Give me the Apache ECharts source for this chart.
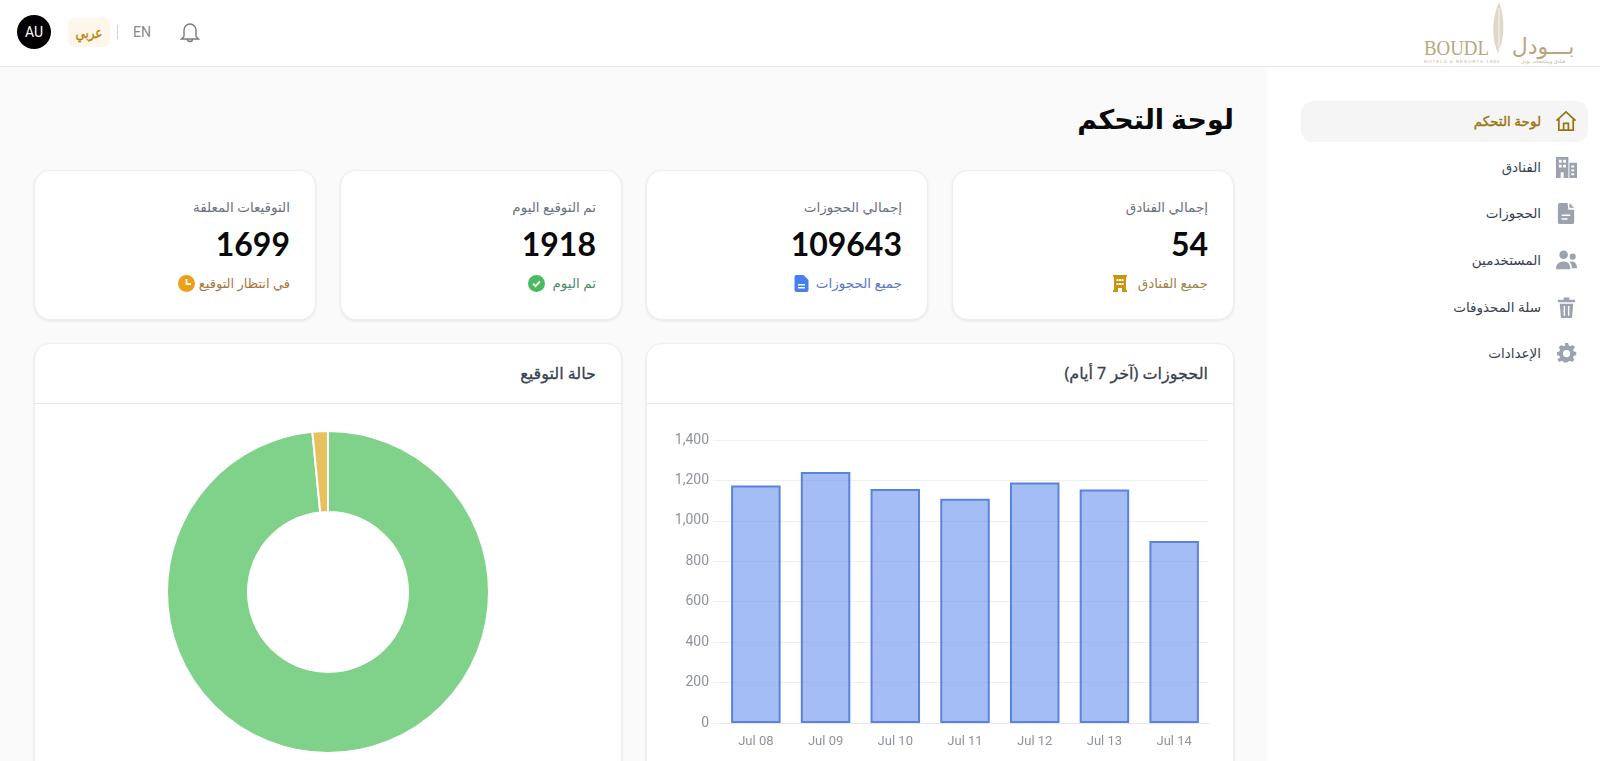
<!DOCTYPE html>
<html lang="ar">
<head>
	<meta charset="UTF-8">
	<title>لوحة التحكم</title>
	<script src="https://cdn.jsdelivr.net/npm/echarts@6/dist/echarts.min.js"></script>
	<style>
		html, body { margin: 0; width: 1600px; height: 761px; overflow: hidden; background: #fafafa; font-family: "Noto Sans", "DejaVu Sans", sans-serif; }
		.abs { position: absolute; }
		#top { left: 0; top: 0; width: 1600px; height: 67px; background: #fff; border-bottom: 1px solid #e5e7eb; box-sizing: border-box; }
		#side { left: 1267px; top: 67px; width: 333px; height: 694px; background: #fff; }
		#avatar { left: 17px; top: 15px; width: 34px; height: 34px; border-radius: 50%; background: #000; color: #fff; font: 14px/34px Roboto; text-align: center; }
		#ar { left: 68px; top: 18px; width: 42px; height: 29px; border-radius: 6px; background: #fdf6ea; color: #b8860b; font-size: 15px; line-height: 29px; text-align: center; -webkit-text-stroke: .4px #b8860b; }
		#ar span { display: inline-block; transform: scaleX(.8); }
		#sep { left: 117px; top: 25px; width: 1px; height: 14px; background: #d1d5db; }
		#en { left: 133px; top: 22px; color: #8a8a8a; font: 14px/20px Roboto; }
		.nav { left: 1301px; width: 287px; height: 41px; border-radius: 12px; }
		.nav .t { position: absolute; right: 47px; top: 0; line-height: 41px; font-size: 13.5px; color: #374151; white-space: nowrap; direction: rtl; }
		.nav svg { position: absolute; left: 254px; top: 9px; }
		.nav.on { background: #f5f5f5; }
		.nav.on .t { color: #9a7411; -webkit-text-stroke: .35px #9a7411; }
		h1 { margin: 0; right: 366px; top: 99px; font-size: 27px; line-height: 40px; font-weight: 700; color: #0a0a0a; direction: rtl; }
		.card { background: #fff; border: 1px solid #eceef0; border-radius: 16px; box-shadow: 0 1px 3px rgba(0,0,0,.09); box-sizing: border-box; }
		.stat { top: 170px; width: 282px; height: 150px; }
		.stat .a, .stat .b, .stat .c { position: absolute; right: 25px; white-space: nowrap; direction: rtl; }
		.stat .a { top: 26px; font-size: 13.5px; line-height: 20px; color: #6b7280; }
		.stat .b { top: 52px; font: 700 32px/42px Lato; color: #0a0a0a; }
		.stat .c { top: 102px; font-size: 13.5px; line-height: 20px; display: flex; align-items: center; gap: 7px; }
		.panel { top: 343px; width: 588px; height: 440px; }
		.panel .h { position: absolute; left: 0; right: 0; top: 0; height: 59px; border-bottom: 1px solid #e5e7eb; }
		.panel .h div { position: absolute; right: 25px; top: 18px; font-size: 16px; line-height: 22px; color: #374151; -webkit-text-stroke: .3px #374151; direction: rtl; white-space: nowrap; }
	</style>
</head>
<body>
	<div id="side" class="abs"></div>
	<div id="top" class="abs"></div>
	<div id="avatar" class="abs">AU</div>
	<div id="ar" class="abs" dir="rtl"><span>عربي</span></div>
	<div id="sep" class="abs"></div>
	<div id="en" class="abs">EN</div>
	<svg class="abs" style="left:178px;top:20px" width="24" height="24" viewBox="0 0 24 24" fill="none" stroke="#7b7b7b" stroke-width="1.4"><path d="M6 16.500V10a6 6 0 0 1 12 0v6.500l2.500 2.500h-17z"/><path d="M9.500 19a2.500 2.500 0 0 0 5 0"/></svg>

	<!-- logo -->
	<svg class="abs" style="left:1420px;top:0" width="165" height="66" viewBox="0 0 165 66">
		<path d="M79 2C72 18 71 38 78 53C85 38 85 18 79 2Z" fill="#dfd8c8"/>
		<path d="M79 8V50" stroke="#fff" stroke-width=".8"/>
		<text x="4" y="55" font-family="Liberation Serif" font-size="20" textLength="65" lengthAdjust="spacingAndGlyphs" fill="#b9a681">BOUDL</text>
		<text x="123" y="54" text-anchor="middle" font-family="DejaVu Sans" font-size="22" fill="#b9a681">بـــودل</text>
		<text x="4" y="63" font-family="Liberation Sans" font-size="4.4" letter-spacing="1" fill="#c4b69b">HOTELS &amp; RESORTS 1996</text>
		<text x="123" y="63" text-anchor="middle" font-family="DejaVu Sans" font-size="5" fill="#c4b69b">فنادق ومنتجعات بودل</text>
	</svg>

	<h1 class="abs">لوحة التحكم</h1>

	<div class="abs card panel" style="left:646px"><div class="h"><div>الحجوزات (آخر 7 أيام)</div></div></div>
	<div class="abs card panel" style="left:34px"><div class="h"><div>حالة التوقيع</div></div></div>
	<div id="barChart" class="abs" style="left:647px;top:403px;width:586px;height:358px"></div>
	<div id="pieChart" class="abs" style="left:35px;top:403px;width:586px;height:358px"></div>

	<script>
		// القيم المقروءة من الصورة
		var bookingDays = ['Jul 08', 'Jul 09', 'Jul 10', 'Jul 11', 'Jul 12', 'Jul 13', 'Jul 14'];
		var bookingCounts = [1175, 1242, 1157, 1109, 1190, 1155, 900];
		var signStatus = ['تم التوقيع', 'في انتظار التوقيع'];
		var signCounts = [107944, 1699];
		var statTitles = ['إجمالي الفنادق', 'إجمالي الحجوزات', 'تم التوقيع اليوم', 'التوقيعات المعلقة'];
		var statValues = ['54', '109643', '1918', '1699'];
		var statNotes = ['جميع الفنادق', 'جميع الحجوزات', 'تم اليوم', 'في انتظار التوقيع'];
		var navItems = ['لوحة التحكم', 'الفنادق', 'الحجوزات', 'المستخدمين', 'سلة المحذوفات', 'الإعدادات'];

		var statLeft = [952, 646, 340, 34];
		var noteColor = ['#a0844a', '#5b78c9', '#4f8f68', '#a9763f'];
		var noteSize = ['13.5px', '13.5px', '13.5px', '13px'];
		var statIcons = [
			'<svg style="margin-right:4px" width="14" height="17" viewBox="0 0 14 17"><path fill="#c8960f" d="M0 0h14v2h-1v13h1v2H9v-4H5v4H0v-2h1V2H0z"/><path fill="#fff" d="M3.500 4h2v2h-2zM6 4h2v2H6zM8.500 4h2v2h-2zM3.500 8h2v2h-2zM6 8h2v2H6zM8.500 8h2v2h-2z"/></svg>',
			'<svg width="15" height="17" viewBox="0 0 14 17"><path fill="#4680ee" d="M2 0h7l5 5v10a2 2 0 0 1-2 2H2a2 2 0 0 1-2-2V2a2 2 0 0 1 2-2z"/><path fill="#fff" d="M3.500 9h7v1.400h-7zM3.500 12h7v1.400h-7z"/></svg>',
			'<svg width="17" height="17" viewBox="0 0 17 17"><circle cx="8.500" cy="8.500" r="8.500" fill="#48bb60"/><path d="M5 8.700l2.500 2.500L12 6.400" fill="none" stroke="#fff" stroke-width="1.800"/></svg>',
			'<svg style="margin-right:-3px" width="17" height="17" viewBox="0 0 17 17"><circle cx="8.500" cy="8.500" r="8.500" fill="#ee9f16"/><path d="M8.500 4v5H13" fill="none" stroke="#fff" stroke-width="1.800"/></svg>'
		];
		var navIcons = [
			'<path fill="none" stroke="#9a7411" stroke-width="1.800" d="M1.500 11L11.500 2l10 9M4 9v12h15V9M9 21v-7h5v7"/>',
			'<path fill="#9ca3af" d="M1 1h13v22H1zM15 7h8v16h-8z"/><path fill="#fff" d="M4 4h3v3H4zM8.500 4h3v3h-3zM4 9h3v3H4zM8.500 9h3v3h-3zM6 17h3v6H6zM17 10h3v2h-3zM17 14h3v2h-3zM17 18h3v2h-3z"/>',
			'<path fill="#9ca3af" d="M5 1h8l1 7h6v13a2 2 0 0 1-2 2H5a2 2 0 0 1-2-2V3a2 2 0 0 1 2-2z"/><path fill="#9ca3af" d="M15 1l5 5h-5z"/><path fill="#fff" d="M7 13h9v1.500H7zM7 17h6v1.500H7z"/>',
			'<circle cx="9" cy="6" r="4.500" fill="#9ca3af"/><circle cx="18.500" cy="8" r="3.200" fill="#9ca3af"/><path fill="#9ca3af" d="M1 21c0-5 3-8 8-8s7 3 7 8zM17 13c3.500 0 6 2 6 7h-5.500c0-3-.5-5-2.500-6.500z"/>',
			'<path fill="#9ca3af" d="M3 4h18v2.500H3zM9 1.500h6V4H9zM5 8h14l-1.200 15H6.200z"/><path fill="#fff" d="M9 10.500h1.500v10H9zM13.500 10.500H15v10h-1.500z"/>',
			'<g transform="translate(2 2) scale(.84)"><path fill="#9ca3af" fill-rule="evenodd" d="M10 1h4l.7 3 2.400 1 2.700-1.600 2.800 2.800L20.100 9l1 2.400 2.900.6v4l-2.900.6-1 2.400 1.500 2.800-2.800 2.800-2.700-1.600-2.400 1-.7 1h-4l-.7-1-2.400-1-2.700 1.600-2.800-2.800L3.900 19l-1-2.400L0 16v-4l2.900-.6 1-2.400L2.400 6.200l2.800-2.800L7.900 5l2.400-1zM12 9.500a4.500 4.500 0 1 0 0 9 4.500 4.500 0 0 0 0-9z" transform="translate(0 -2)"/></g>'
		];
		var navTop = [101, 147, 193, 240, 287, 333];

		var html = '';
		for (var i = 0; i < statTitles.length; i++) {
			html += '<div class="abs card stat" style="left:' + statLeft[i] + 'px">' +
				'<div class="a">' + statTitles[i] + '</div>' +
				'<div class="b">' + statValues[i] + '</div>' +
				'<div class="c" style="color:' + noteColor[i] + ';font-size:' + noteSize[i] + '"><span>' + statNotes[i] + '</span>' + statIcons[i] + '</div></div>';
		}
		for (var j = 0; j < navItems.length; j++) {
			html += '<div class="abs nav' + (j == 0 ? ' on' : '') + '" style="top:' + navTop[j] + 'px">' +
				'<div class="t">' + navItems[j] + '</div>' +
				'<svg width="23" height="23" viewBox="0 0 24 24">' + navIcons[j] + '</svg></div>';
		}
		document.body.insertAdjacentHTML('beforeend', html);

		var barChart = echarts.init(document.getElementById('barChart'));
		barChart.setOption({
			animation: false,
			grid: { left: 74, right: 24, top: 37, height: 283 },
			xAxis: {
				type: 'category',
				data: bookingDays,
				axisLine: { lineStyle: { color: '#e5e7eb' } },
				axisTick: { show: false },
				axisLabel: { color: '#8f939b', fontFamily: 'Roboto', fontSize: 13, margin: 12 }
			},
			yAxis: {
				type: 'value',
				min: 0,
				max: 1400,
				interval: 200,
				axisLine: { show: false },
				axisTick: { show: true, length: 8, lineStyle: { color: '#eef0f2' } },
				axisLabel: { color: '#8f939b', fontFamily: 'Roboto', fontSize: 14, margin: 12 },
				splitLine: { lineStyle: { color: '#eef0f2' } }
			},
			series: [{
				type: 'bar',
				data: bookingCounts,
				barCategoryGap: '29%',
				itemStyle: { color: 'rgba(74,124,236,.5)', borderColor: '#5b83de', borderWidth: 2 }
			}]
		});

		var pieChart = echarts.init(document.getElementById('pieChart'));
		pieChart.setOption({
			animation: false,
			series: [{
				type: 'pie',
				center: [293, 189],
				radius: [80, 161],
				startAngle: 90,
				label: { show: false },
				labelLine: { show: false },
				itemStyle: { borderColor: '#fff', borderWidth: 2 },
				data: [
					{ name: signStatus[0], value: signCounts[0], itemStyle: { color: '#80d189' } },
					{ name: signStatus[1], value: signCounts[1], itemStyle: { color: '#e6c25f' } }
				]
			}]
		});
	</script>
</body>
</html>
